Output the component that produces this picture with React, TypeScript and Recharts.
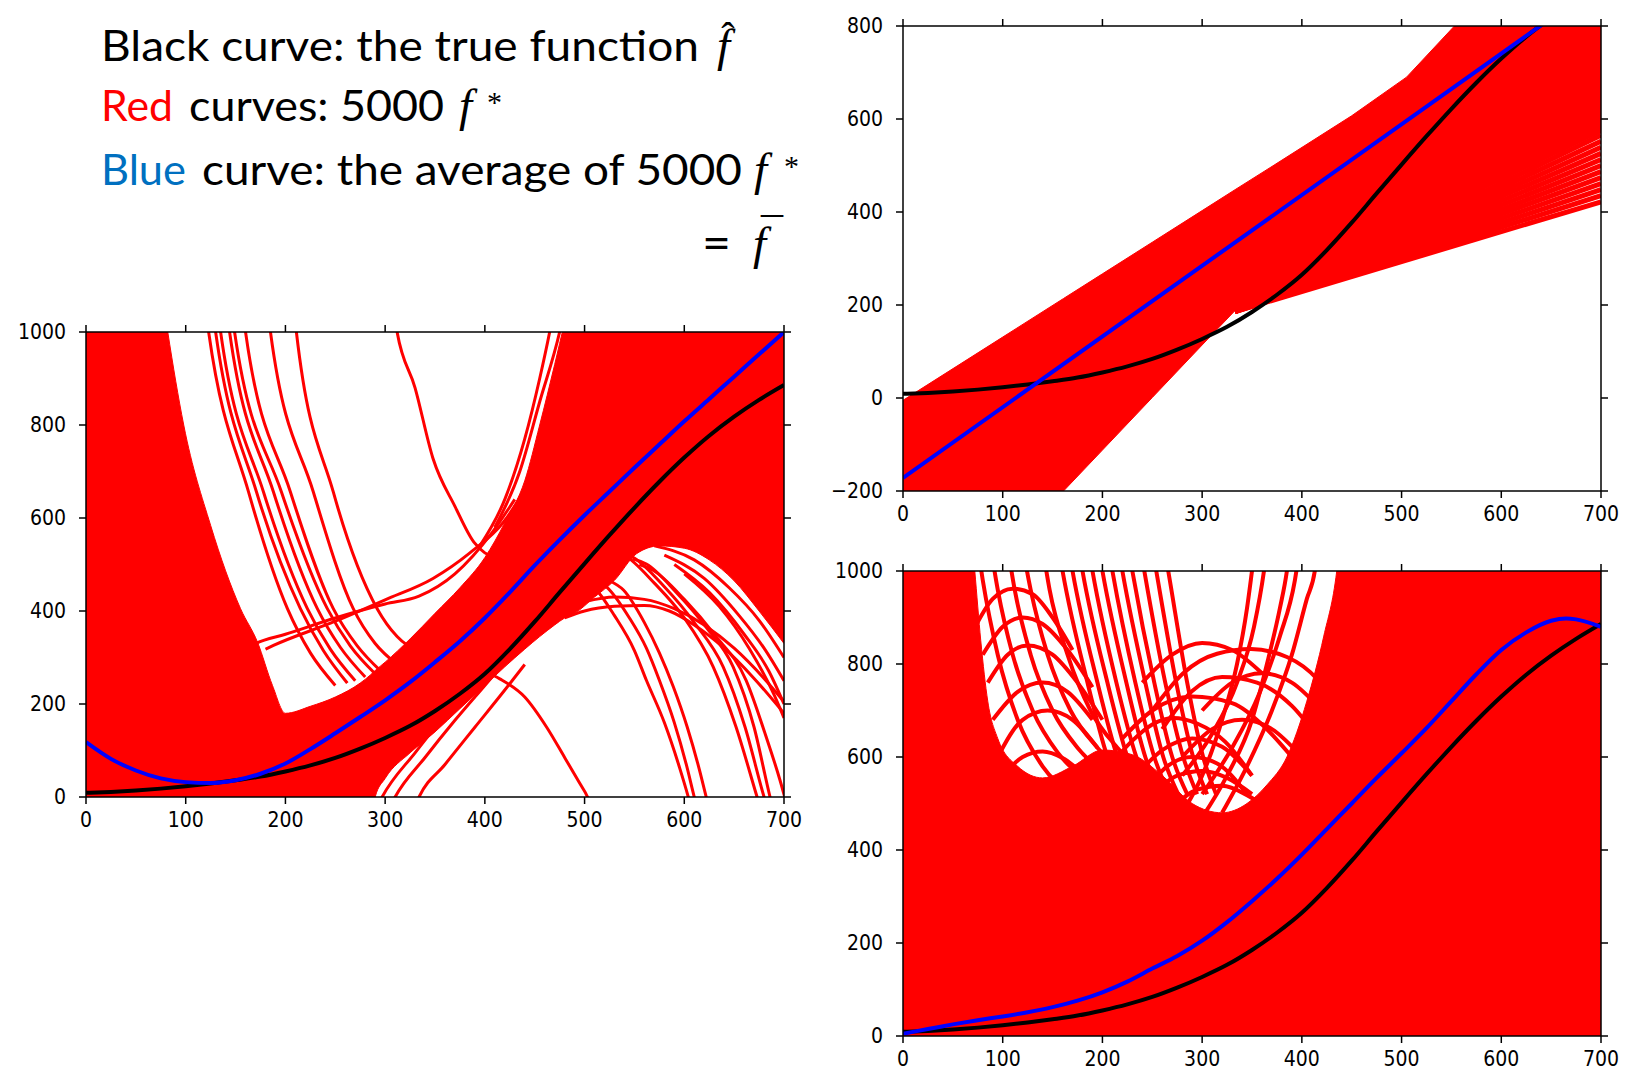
import { ComposedChart, Area, Line, XAxis, YAxis } from "recharts";

type Pt = [number, number];
type Band = [number, number, number]; // x, low, high

const RED = "#ff0000";
const BLUE = "#0000ff";
const TEXT_BLUE = "#0070c0";

const xTicks = [0, 100, 200, 300, 400, 500, 600, 700];
const yTicksTall = [0, 200, 400, 600, 800, 1000];
const yTicksLinear = [-200, 0, 200, 400, 600, 800];

// black: the true function f-hat (same in all three panels)
const trueFn: Pt[] = [
  [0, 9], [25, 11], [50, 14], [75, 18], [100, 23], [125, 29], [150, 36], [175, 44],
  [200, 55], [225, 68], [250, 84], [275, 104], [300, 127], [325, 153], [350, 185],
  [375, 222], [400, 265], [425, 318], [450, 377], [475, 440], [500, 502], [525, 563],
  [550, 622], [575, 678], [600, 730], [625, 777], [650, 818], [675, 854], [700, 886],
];

// blue: average of the 5000 fits, per panel
const meanCubic: Pt[] = [
  [0, 118], [25, 82], [50, 57], [75, 40], [100, 32], [125, 30], [150, 36], [175, 50],
  [200, 72], [225, 103], [250, 137], [275, 172], [300, 208], [325, 247], [350, 290],
  [375, 335], [400, 385], [425, 440], [450, 498], [475, 553], [500, 606], [525, 657],
  [550, 708], [575, 758], [600, 808], [625, 856], [650, 904], [675, 952], [700, 1000],
];
const meanLinear: Pt[] = [[0, -172], [700, 893]];
const meanHigh: Pt[] = [
  [0, 5], [25, 15], [50, 25], [75, 34], [100, 42], [125, 51], [150, 62], [175, 76],
  [200, 94], [225, 117], [250, 145], [275, 172], [300, 205], [325, 245], [350, 290],
  [375, 338], [400, 390], [425, 445], [450, 500], [475, 555], [500, 608], [525, 662],
  [550, 720], [575, 778], [600, 830], [625, 868], [650, 893], [665, 898], [675, 896], [700, 880],
];

// red: solid regions where the fitted curves overlap
const cubicBand: Band[] = [
  [0, -50, 1100], [25, -50, 1100], [50, -50, 1100], [75, -50, 1100], [82, -50, 1000],
  [98, -50, 800], [125, -50, 584], [155, -50, 405], [172, -50, 333], [187, -50, 240],
  [200, -50, 180], [225, -50, 195], [250, -50, 215], [275, -50, 245], [285, -50, 262],
  [290, 0, 272], [300, 40, 290], [325, 95, 340], [350, 140, 395], [375, 190, 450],
  [400, 240, 515], [420, 280, 590], [440, 318, 680], [455, 345, 800], [470, 370, 930],
  [480, 385, 1020], [490, 395, 1100], [510, 430, 1100], [530, 466, 1100], [552, 523, 1100],
  [575, 540, 1100], [600, 535, 1100], [625, 510, 1100], [650, 465, 1100], [675, 400, 1100],
  [700, 330, 1100],
];
const linearBand: Band[] = [
  [0, -260, -5], [100, -260, 131], [161, -200, 214], [200, -112, 267], [250, 1, 335],
  [300, 114, 403], [333, 188, 448], [373, 230, 502], [450, 310, 607], [505, 367, 690],
  [553, 417, 800], [600, 466, 900], [700, 570, 1000],
];
const highBand: Band[] = [
  [0, -50, 1100], [68, -50, 1100], [72, -50, 1000], [78, -50, 850], [85, -50, 720],
  [95, -50, 640], [115, -50, 580], [140, -50, 555], [170, -50, 580], [200, -50, 615],
  [230, -50, 605], [260, -50, 560], [290, -50, 500], [320, -50, 480], [345, -50, 500],
  [365, -50, 540], [385, -50, 600], [405, -50, 720], [422, -50, 860], [435, -50, 1000],
  [440, -50, 1100], [700, -50, 1100],
];

// red: single fitted curves that stand apart, left panel
const cubicCurves: Pt[][] = [
  [[118, 1080], [123, 1000], [163, 656], [202, 405], [225, 310], [250, 240]],
  [[125, 1080], [130, 1000], [171, 656], [215, 405], [238, 315], [262, 245]],
  [[130, 1080], [135, 1000], [178, 656], [222, 405], [245, 318], [270, 250]],
  [[139, 1080], [144, 1000], [188, 656], [232, 405], [255, 322], [280, 258]],
  [[144, 1080], [149, 1000], [196, 656], [242, 405], [265, 325], [290, 265]],
  [[155, 1080], [160, 1000], [205, 656], [248, 405], [272, 325], [296, 270]],
  [[181, 1080], [185, 1000], [228, 656], [268, 405], [290, 330], [312, 285]],
  [[207, 1080], [211, 1000], [248, 656], [292, 405], [312, 345], [335, 310]],
  [[305, 1100], [312, 1000], [330, 880], [348, 728], [370, 625], [389, 548], [400, 525], [410, 515]],
  [[160, 318], [171, 331], [200, 350], [250, 385], [300, 415], [334, 432], [370, 480], [407, 568], [430, 640]],
  [[180, 318], [188, 326], [250, 378], [300, 424], [348, 470], [385, 525], [419, 592], [440, 660]],
  [[395, 540], [420, 640], [440, 770], [455, 900], [465, 1000], [472, 1080]],
  [[410, 580], [435, 700], [455, 850], [475, 1000], [483, 1080]],
  [[290, -30], [297, 0], [330, 95], [360, 175], [390, 250], [410, 300]],
  [[303, -30], [310, 0], [340, 85], [370, 165], [400, 240], [420, 290]],
  [[328, -30], [334, 0], [360, 70], [390, 150], [420, 230], [440, 285]],
  [[400, 270], [415, 254], [440, 215], [462, 150], [480, 85], [495, 30], [503, 0], [510, -40]],
  [[480, 385], [500, 400], [530, 410], [560, 412], [585, 400], [610, 370], [640, 320], [670, 255], [700, 180]],
  [[500, 420], [530, 430], [560, 425], [590, 405], [620, 370], [650, 320], [680, 255], [700, 205]],
  [[495, 470], [509, 452], [530, 390], [550, 315], [562, 251], [580, 160], [595, 65], [604, 0], [610, -50]],
  [[508, 470], [522, 452], [545, 385], [562, 320], [575, 251], [590, 160], [602, 70], [610, 0], [616, -50]],
  [[525, 465], [539, 445], [560, 375], [575, 310], [589, 237], [603, 150], [615, 60], [622, 0], [628, -50]],
  [[525, 535], [539, 522], [570, 460], [600, 385], [629, 280], [652, 150], [673, 0], [680, -50]],
  [[535, 528], [549, 515], [580, 452], [610, 375], [639, 280], [661, 150], [680, 0], [687, -50]],
  [[548, 512], [562, 501], [592, 440], [622, 365], [649, 280], [670, 150], [686, 0], [692, -50]],
  [[555, 500], [569, 487], [600, 425], [630, 350], [662, 251], [682, 130], [696, 36], [702, -10]],
  [[560, 560], [600, 545], [640, 500], [670, 440], [700, 360]],
  [[570, 540], [610, 510], [645, 450], [675, 380], [700, 300]],
  [[580, 520], [620, 470], [655, 390], [680, 320], [700, 250]],
  [[590, 500], [625, 440], [660, 350], [685, 270], [700, 200]],
  [[600, 480], [635, 410], [665, 320], [690, 220], [700, 170]],
];

// red: the fan of straight fits, top-right panel (end value at x = 700)
const fanStart: Pt = [333, 186];
const fanEnds = [422, 435, 448, 461, 474, 487, 500, 513, 526, 539, 552, 565];

// red: mesh of curves through the gap, bottom-right panel
const highCurves: Pt[][] = [
  [[250, 700], [281, 780], [315, 822], [349, 832], [385, 815], [416, 766], [440, 690]],
  [[200, 560], [229, 633], [250, 670], [271, 684], [295, 672], [323, 633], [350, 560]],
  [[230, 550], [260, 615], [290, 640], [320, 622], [350, 560]],
  [[240, 520], [265, 580], [290, 600], [315, 586], [345, 520]],
  [[220, 640], [250, 700], [290, 730], [330, 716], [360, 670], [390, 600]],
  [[260, 660], [290, 742], [320, 772], [355, 760], [390, 710], [420, 630]],
  [[280, 600], [310, 660], [340, 680], [370, 660], [400, 600]],
  [[300, 700], [330, 760], [360, 780], [390, 760], [420, 700]],
  [[240, 760], [270, 820], [300, 845], [330, 830], [360, 780]],
  [[250, 520], [275, 560], [300, 570], [325, 555], [350, 520]],
  [[270, 490], [295, 530], [320, 538], [345, 518], [365, 490]],
  [[70, 870], [90, 940], [110, 962], [130, 950], [150, 900], [170, 830]],
  [[80, 820], [100, 880], [120, 900], [140, 886], [165, 830], [190, 750]],
  [[85, 760], [105, 820], [125, 840], [150, 820], [175, 760], [200, 680]],
  [[90, 680], [115, 740], [140, 760], [165, 740], [190, 680]],
  [[95, 600], [120, 680], [145, 700], [170, 680], [195, 620]],
  [[100, 560], [120, 600], [140, 612], [160, 598], [180, 565]],
  [[75, 1050], [80, 980], [95, 820], [115, 680], [140, 580], [170, 520], [200, 500]],
  [[88, 1050], [95, 960], [110, 820], [130, 700], [155, 610], [185, 550]],
  [[105, 1050], [112, 960], [128, 820], [150, 700], [175, 620], [205, 560]],
  [[120, 1050], [128, 960], [145, 820], [168, 700], [195, 620], [225, 560]],
  [[140, 1050], [147, 960], [165, 820], [188, 700], [215, 620], [245, 560]],
  [[156, 1050], [160, 1000], [185, 760], [205, 600], [220, 520]],
  [[166, 1050], [170, 1000], [195, 760], [215, 600], [230, 520]],
  [[176, 1050], [180, 1000], [205, 760], [225, 600], [240, 520]],
  [[186, 1050], [190, 1000], [214, 760], [234, 600], [249, 520]],
  [[196, 1050], [200, 1000], [224, 760], [243, 600], [258, 520]],
  [[206, 1050], [210, 1000], [233, 760], [252, 600], [267, 520]],
  [[216, 1050], [220, 1000], [243, 760], [261, 600], [276, 520]],
  [[226, 1050], [230, 1000], [252, 760], [270, 600], [285, 520]],
  [[238, 1050], [242, 1000], [263, 760], [281, 600], [295, 520]],
  [[250, 1050], [254, 1000], [274, 760], [291, 600], [305, 520]],
  [[262, 1050], [266, 1000], [285, 760], [301, 600], [314, 520]],
  [[280, 480], [300, 560], [320, 680], [335, 800], [345, 920], [350, 1000], [353, 1050]],
  [[300, 470], [325, 560], [350, 680], [365, 800], [378, 920], [385, 1000], [388, 1050]],
  [[320, 480], [345, 580], [370, 700], [390, 820], [405, 940], [413, 1000], [416, 1050]],
  [[280, 560], [310, 650], [335, 760], [352, 880], [362, 1000], [365, 1050]],
  [[300, 520], [330, 620], [358, 740], [378, 860], [393, 980], [398, 1050]],
];

const ptRows = (pts: Pt[]) => pts.map(([x, y]) => ({ x, y }));
const bandRows = (b: Band[]) => b.map(([x, lo, hi]) => ({ x, r: [lo, hi] }));
const fmt = (v: number) => (v < 0 ? `\u2212${-v}` : `${v}`);
const NoLabel = () => <g />;

interface PanelProps {
  left: number;
  top: number;
  yDomain: [number, number];
  yTicks: number[];
  band: Band[];
  curves: Pt[][];
  curveWidth: number;
  curveType: "monotone" | "linear";
  mean: Pt[];
  meanType: "monotone" | "linear";
}

function Panel({ left, top, yDomain, yTicks, band, curves, curveWidth, curveType, mean, meanType }: PanelProps) {
  const axisStyle = { stroke: "#000", strokeWidth: 1.5 };
  const tickStyle = { fill: "#000", fontSize: 21, fontFamily: "DejaVu Sans", fontStretch: "condensed" };
  return (
    <div style={{ position: "absolute", left, top }}>
      <ComposedChart width={810} height={527} margin={{ top: 5, right: 20, bottom: 5, left: 5 }}>
        <Area
          data={bandRows(band)}
          dataKey="r"
          type={curveType}
          stroke={RED}
          strokeWidth={1}
          fill={RED}
          fillOpacity={1}
          dot={false}
          activeDot={false}
          isAnimationActive={false}
        />
        {curves.map((c, i) => (
          <Line
            key={i}
            data={ptRows(c)}
            dataKey="y"
            type={curveType}
            stroke={RED}
            strokeWidth={curveWidth}
            dot={false}
            activeDot={false}
            isAnimationActive={false}
          />
        ))}
        <Line data={ptRows(trueFn)} dataKey="y" type="monotone" stroke="#000" strokeWidth={4}
          dot={false} activeDot={false} isAnimationActive={false} />
        <Line data={ptRows(mean)} dataKey="y" type={meanType} stroke={BLUE} strokeWidth={4}
          dot={false} activeDot={false} isAnimationActive={false} />
        <XAxis dataKey="x" type="number" domain={[0, 700]} ticks={xTicks} interval={0} allowDataOverflow
          height={40} tickSize={7} tickMargin={8} axisLine={axisStyle} tickLine={axisStyle} tick={tickStyle} />
        <XAxis xAxisId="top" orientation="top" dataKey="x" type="number" domain={[0, 700]} ticks={xTicks}
          interval={0} allowDataOverflow height={12} tickSize={7} axisLine={axisStyle} tickLine={axisStyle} tick={NoLabel} />
        <YAxis type="number" domain={yDomain} ticks={yTicks} interval={0} allowDataOverflow width={75}
          tickSize={7} tickMargin={13} axisLine={axisStyle} tickLine={axisStyle} tick={tickStyle} tickFormatter={fmt} />
        <YAxis yAxisId="right" orientation="right" type="number" domain={yDomain} ticks={yTicks} interval={0}
          allowDataOverflow width={12} tickSize={7} axisLine={axisStyle} tickLine={axisStyle} tick={NoLabel} />
      </ComposedChart>
    </div>
  );
}

function Caption() {
  const sans = { fontFamily: "Lato", fontSize: 42 };
  const math = { fontFamily: "Liberation Serif", fontStyle: "italic", fontSize: 47 };
  return (
    <svg width={830} height={300} style={{ position: "absolute", left: 0, top: 0 }}>
      <text x={101} y={61} {...sans} textLength={598} lengthAdjust="spacingAndGlyphs">Black curve: the true function</text>
      <text x={717} y={61} {...math}>f</text>
      <text x={728} y={50} textAnchor="middle" fontFamily="Liberation Serif" fontSize={40}>ˆ</text>

      <text x={101} y={121} {...sans} fill={RED} textLength={72} lengthAdjust="spacingAndGlyphs">Red</text>
      <text x={189} y={121} {...sans} textLength={255} lengthAdjust="spacingAndGlyphs">curves: 5000</text>
      <text x={459} y={121} {...math}>f</text>
      <text x={487} y={112} fontFamily="Liberation Serif" fontSize={30}>*</text>

      <text x={101} y={185} {...sans} fill={TEXT_BLUE} textLength={85} lengthAdjust="spacingAndGlyphs">Blue</text>
      <text x={202} y={185} {...sans} textLength={540} lengthAdjust="spacingAndGlyphs">curve: the average of 5000</text>
      <text x={754} y={185} {...math}>f</text>
      <text x={784} y={176} fontFamily="Liberation Serif" fontSize={30}>*</text>

      <text x={702} y={259} {...sans} fontSize={46} textLength={29} lengthAdjust="spacingAndGlyphs">=</text>
      <text x={753} y={259} {...math}>f</text>
      <text x={772} y={249} textAnchor="middle" fontFamily="Liberation Serif" fontSize={44}>¯</text>
    </svg>
  );
}

export default function App() {
  const fanCurves: Pt[][] = fanEnds.map((e) => [fanStart, [700, e]]);
  return (
    <div style={{ position: "absolute", left: 0, top: 0, width: 1634, height: 1087, background: "#fff" }}>
      <Caption />
      <Panel left={5.5} top={314.7} yDomain={[0, 1000]} yTicks={yTicksTall} band={cubicBand}
        curves={cubicCurves} curveWidth={3} curveType="monotone" mean={meanCubic} meanType="monotone" />
      <Panel left={822.5} top={9} yDomain={[-200, 800]} yTicks={yTicksLinear} band={linearBand}
        curves={fanCurves} curveWidth={5} curveType="linear" mean={meanLinear} meanType="linear" />
      <Panel left={823} top={554} yDomain={[0, 1000]} yTicks={yTicksTall} band={highBand}
        curves={highCurves} curveWidth={4} curveType="monotone" mean={meanHigh} meanType="monotone" />
    </div>
  );
}
